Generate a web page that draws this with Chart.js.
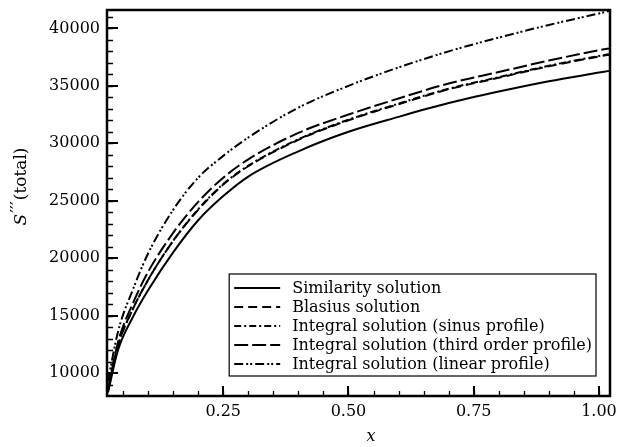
<!DOCTYPE html>
<html>
<head>
<meta charset="utf-8">
<script src="https://cdn.jsdelivr.net/npm/chart.js@4.4.0/dist/chart.umd.min.js"></script>
<style>
  html, body { margin: 0; padding: 0; background: #fff; }
  #wrap { width: 617px; height: 447px; }
</style>
</head>
<body>
<div id="wrap"><canvas id="c" width="617" height="447"></canvas></div>
<script>
// Streamwise position x and total S''' for each solution method
const xValues      = [0.02, 0.04, 0.07, 0.10, 0.15, 0.20, 0.25, 0.30, 0.40, 0.50, 0.60, 0.70, 0.80, 0.90, 1.00, 1.02];
const similarity   = [8300, 12000, 14900, 17200, 20500, 23300, 25400, 27100, 29300, 31000, 32300, 33500, 34500, 35400, 36150, 36300];
const blasius      = [8500, 12400, 15600, 18100, 21500, 24200, 26400, 28000, 30300, 32000, 33400, 34700, 35700, 36700, 37550, 37700];
const sinusProfile = [8500, 12400, 15600, 18100, 21500, 24250, 26450, 28050, 30350, 32050, 33450, 34750, 35750, 36750, 37600, 37750];
const thirdOrder   = [8600, 12700, 16100, 18800, 22200, 24900, 27000, 28600, 30900, 32500, 33900, 35200, 36200, 37200, 38100, 38250];
const linearProfile= [9300, 13600, 17300, 20400, 24200, 27000, 28900, 30500, 33100, 35000, 36600, 38000, 39200, 40300, 41300, 41500];

const seriesLabels = [
  'Similarity solution',
  'Blasius solution',
  'Integral solution (sinus profile)',
  'Integral solution (third order profile)',
  'Integral solution (linear profile)'
];

const xTicks = [0.25, 0.50, 0.75, 1.00];
const yTicks = [10000, 15000, 20000, 25000, 30000, 35000, 40000];

const X_MIN = 0.018, X_MAX = 1.022, Y_MIN = 8000, Y_MAX = 41600;
const SERIF = '"DejaVu Serif", "Liberation Serif", serif';

const toPoints = ys => xValues.map((x, i) => ({ x: x, y: ys[i] }));

function lineSet(label, ys, dash) {
  return {
    label: label,
    data: toPoints(ys),
    borderColor: '#000',
    borderWidth: 2,
    borderDash: dash,
    pointRadius: 0,
    fill: false,
    cubicInterpolationMode: 'monotone'
  };
}

// keep the plotting area fixed: no extra room for overhanging tick labels
function noScalePadding(s) {
  s.paddingTop = 0; s.paddingBottom = 0; s.paddingLeft = 0; s.paddingRight = 0;
}

// Frame around the plotting area, inward major/minor ticks, axis titles
const framePlugin = {
  id: 'frame',
  afterDraw(chart) {
    const ctx = chart.ctx, a = chart.chartArea;
    const xs = chart.scales.x, ys = chart.scales.y;
    ctx.save();
    ctx.strokeStyle = '#000';

    // minor ticks
    ctx.lineWidth = 1.3;
    ctx.beginPath();
    for (let v = 0.05; v < X_MAX; v += 0.05) {
      const p = Math.round(xs.getPixelForValue(v)) + 0.5;
      ctx.moveTo(p, a.bottom); ctx.lineTo(p, a.bottom - 5);
    }
    for (let v = 9000; v < Y_MAX; v += 1000) {
      const p = Math.round(ys.getPixelForValue(v)) + 0.5;
      ctx.moveTo(a.left, p); ctx.lineTo(a.left + 6, p);
    }
    ctx.stroke();

    // major ticks
    ctx.lineWidth = 2;
    ctx.beginPath();
    xTicks.forEach(v => {
      const p = Math.round(xs.getPixelForValue(v));
      ctx.moveTo(p, a.bottom); ctx.lineTo(p, a.bottom - 10);
    });
    yTicks.forEach(v => {
      const p = Math.round(ys.getPixelForValue(v));
      ctx.moveTo(a.left, p); ctx.lineTo(a.left + 11, p);
    });
    ctx.stroke();

    // frame
    ctx.lineWidth = 2.5;
    ctx.strokeRect(a.left, a.top, a.right - a.left, a.bottom - a.top);

    // x axis title
    ctx.fillStyle = '#000';
    ctx.font = 'italic 16px ' + SERIF;
    ctx.textAlign = 'center';
    ctx.textBaseline = 'middle';
    ctx.fillText('x', 371, 437);

    // y axis title: S''' (total), rotated
    ctx.translate(21, 187);
    ctx.rotate(-Math.PI / 2);
    ctx.textAlign = 'left';
    ctx.textBaseline = 'middle';
    const sFont = 'italic 17px ' + SERIF;
    const pFont = '17px ' + SERIF;
    const tFont = '17px ' + SERIF;
    const primes = '\u2032\u2032\u2032';
    ctx.font = sFont; const wS = ctx.measureText('S').width;
    ctx.font = pFont; const wP = ctx.measureText(primes).width;
    ctx.font = tFont; const wT = ctx.measureText('(total)').width;
    let x0 = -(wS + wP + 1 + wT) / 2;
    ctx.font = sFont; ctx.fillText('S', x0, 1);
    ctx.font = pFont; ctx.fillText(primes, x0 + wS + 1, -3);
    ctx.font = tFont; ctx.fillText('(total)', x0 + wS + wP + 2, 1);
    ctx.restore();
  }
};

// Boxed legend in the lower right of the plotting area
const legendPlugin = {
  id: 'boxLegend',
  afterDatasetsDraw(chart) {
    const ctx = chart.ctx, a = chart.chartArea;
    const ds = chart.data.datasets;
    ctx.save();
    ctx.font = '16px ' + SERIF;
    const rowH = 19, sample = 46;
    const textW = Math.max(...ds.map(d => ctx.measureText(d.label).width));
    const w = 63 + textW + 4;
    const h = rowH * ds.length + 7;
    const x0 = a.right - 14 - w, y0 = a.bottom - 20 - h;
    ctx.fillStyle = '#fff';
    ctx.fillRect(x0, y0, w, h);
    ctx.strokeStyle = '#000';
    ctx.lineWidth = 1.2;
    ctx.strokeRect(x0, y0, w, h);
    ds.forEach((d, i) => {
      const cy = y0 + 14 + i * rowH;
      ctx.beginPath();
      ctx.setLineDash(d.borderDash || []);
      ctx.lineWidth = d.borderWidth;
      ctx.moveTo(x0 + 5, cy); ctx.lineTo(x0 + 5 + sample, cy);
      ctx.stroke();
      ctx.setLineDash([]);
      ctx.fillStyle = '#000';
      ctx.textAlign = 'left';
      ctx.textBaseline = 'middle';
      ctx.fillText(d.label, x0 + 63, cy + 1);
    });
    ctx.restore();
  }
};

new Chart(document.getElementById('c'), {
  type: 'line',
  data: {
    datasets: [
      lineSet(seriesLabels[0], similarity, []),
      lineSet(seriesLabels[1], blasius, [9, 5]),
      lineSet(seriesLabels[2], sinusProfile, [7, 3, 2, 3]),
      lineSet(seriesLabels[3], thirdOrder, [14, 4]),
      lineSet(seriesLabels[4], linearProfile, [9, 3, 2, 2, 2, 3])
    ]
  },
  options: {
    responsive: false,
    animation: false,
    devicePixelRatio: 1,
    layout: { padding: { left: 0, top: 10, right: 7, bottom: 0 } },
    plugins: { legend: { display: false }, tooltip: { enabled: false } },
    scales: {
      x: {
        type: 'linear',
        min: X_MIN, max: X_MAX,
        afterBuildTicks: s => { s.ticks = xTicks.map(v => ({ value: v })); },
        afterFit: s => { s.height = 51; noScalePadding(s); },
        grid: { display: false, drawTicks: false },
        border: { display: false },
        ticks: {
          autoSkip: false, maxRotation: 0, padding: 6, color: '#000',
          font: { family: SERIF, size: 16 },
          callback: v => Number(v).toFixed(2)
        }
      },
      y: {
        type: 'linear',
        min: Y_MIN, max: Y_MAX,
        afterBuildTicks: s => { s.ticks = yTicks.map(v => ({ value: v })); },
        afterFit: s => { s.width = 107; noScalePadding(s); },
        grid: { display: false, drawTicks: false },
        border: { display: false },
        ticks: {
          autoSkip: false, padding: 7, color: '#000',
          font: { family: SERIF, size: 16 },
          callback: v => String(v)
        }
      }
    }
  },
  plugins: [framePlugin, legendPlugin]
});
</script>
</body>
</html>
